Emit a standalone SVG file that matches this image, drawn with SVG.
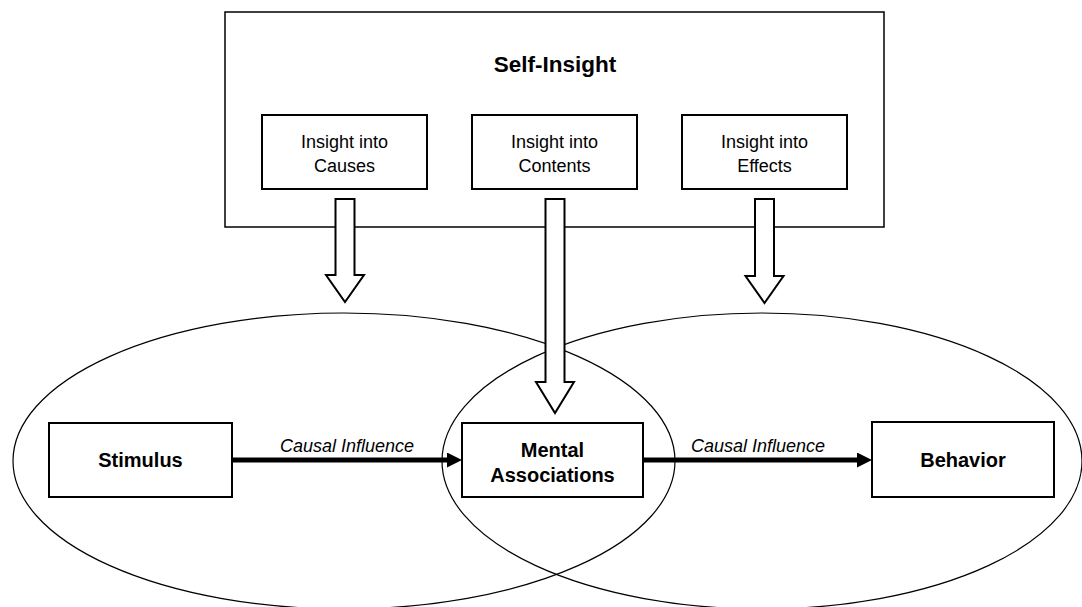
<svg xmlns="http://www.w3.org/2000/svg" width="1082" height="607" viewBox="0 0 1082 607">
<style>
.bg{fill:#fff}
.ell{fill:none;stroke:#000;stroke-width:1.2}
.outer{fill:#fff;stroke:#000;stroke-width:1.5}
.sub{fill:#fff;stroke:#000;stroke-width:2}
.box{fill:#fff;stroke:#000;stroke-width:2}
.blk{fill:#fff;stroke:#000;stroke-width:2;stroke-linejoin:miter}
.cause{stroke:#000;stroke-width:5;fill:none}
.t{font-family:"Liberation Sans",Arial,sans-serif;fill:#000;text-anchor:middle}
.title{font-size:22.5px;font-weight:bold}
.subt{font-size:18px}
.main{font-size:20px;font-weight:bold}
.lab{font-size:18px;font-style:italic}
</style>
<defs>
<marker id="head" markerUnits="userSpaceOnUse" markerWidth="16" markerHeight="16" refX="2" refY="7.5" orient="auto">
<path d="M0,0 L15,7.5 L0,15 Z" fill="#000"/>
</marker>
</defs>
<rect class="bg" x="0" y="0" width="1082" height="607"/>
<g id="ellipses">
<ellipse id="ellipse-left" class="ell" cx="344" cy="461" rx="331" ry="148"/>
<ellipse id="ellipse-right" class="ell" cx="762" cy="461" rx="320" ry="148"/>
</g>
<g id="self-insight">
<rect class="outer" x="225" y="12" width="659" height="215"/>
<text class="t title" x="555" y="72">Self-Insight</text>
</g>
<g id="insight-causes">
<rect class="sub" x="262" y="115" width="165" height="74"/>
<text class="t subt" x="344.5" y="148">Insight into</text>
<text class="t subt" x="344.5" y="172">Causes</text>
</g>
<g id="insight-contents">
<rect class="sub" x="472" y="115" width="165" height="74"/>
<text class="t subt" x="554.5" y="148">Insight into</text>
<text class="t subt" x="554.5" y="172">Contents</text>
</g>
<g id="insight-effects">
<rect class="sub" x="682" y="115" width="165" height="74"/>
<text class="t subt" x="764.5" y="148">Insight into</text>
<text class="t subt" x="764.5" y="172">Effects</text>
</g>
<g id="connectors">
<path class="blk" d="M335.5,199 H354.5 V275 H364 L345,302 L326,275 H335.5 Z"/>
<path class="blk" d="M545.5,199 H564.5 V382 H574 L555,413 L536,382 H545.5 Z"/>
<path class="blk" d="M755,199 H774 V276 H783.5 L764.5,303 L745.5,276 H755 Z"/>
<line class="cause" x1="232" y1="460" x2="449" y2="460" marker-end="url(#head)"/>
<line class="cause" x1="643" y1="460" x2="859" y2="460" marker-end="url(#head)"/>
<text class="t lab" x="347" y="452">Causal Influence</text>
<text class="t lab" x="758" y="452">Causal Influence</text>
</g>
<g id="stimulus">
<rect class="box" x="49" y="423" width="183" height="74"/>
<text class="t main" x="140.5" y="467">Stimulus</text>
</g>
<g id="mental-associations">
<rect class="box" x="462" y="423" width="181" height="74"/>
<text class="t main" x="552.5" y="457">Mental</text>
<text class="t main" x="552.5" y="482">Associations</text>
</g>
<g id="behavior">
<rect class="box" x="872" y="422" width="182" height="75"/>
<text class="t main" x="963" y="467">Behavior</text>
</g>
</svg>
